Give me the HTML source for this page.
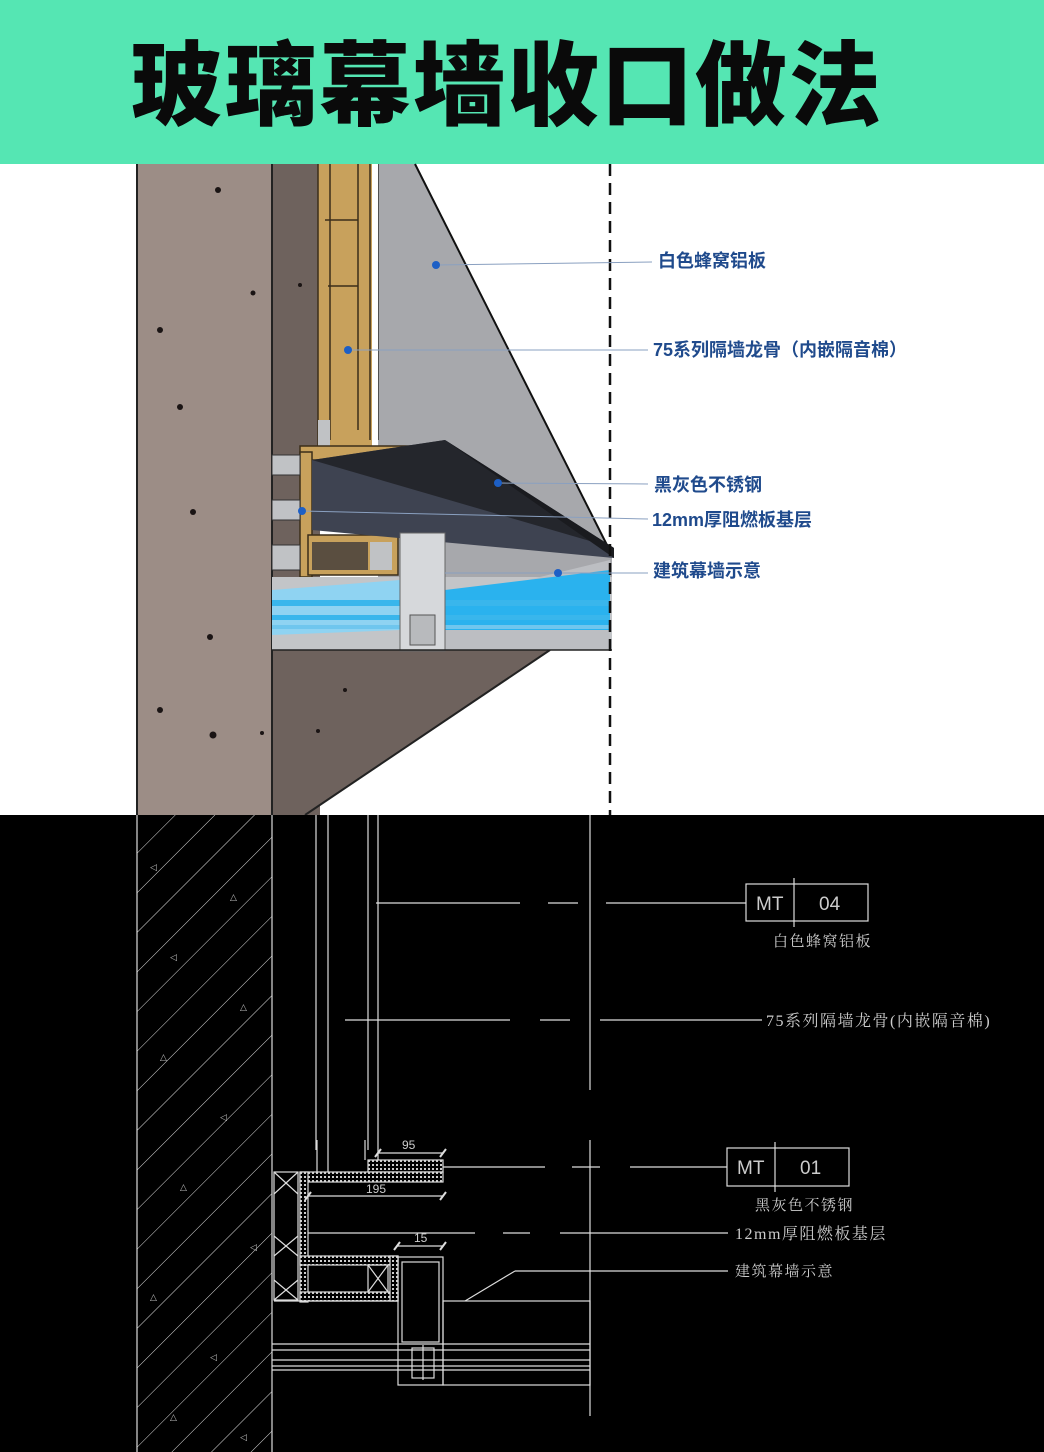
<!DOCTYPE html>
<html><head><meta charset="utf-8"><style>
html,body{margin:0;padding:0;background:#fff;}
svg{display:block;}
</style></head><body>
<svg width="1044" height="1452" viewBox="0 0 1044 1452" xmlns="http://www.w3.org/2000/svg">
<defs>
<pattern id="hatch" width="28" height="28" patternUnits="userSpaceOnUse" patternTransform="rotate(45)">
<rect width="28" height="28" fill="#000"/><line x1="0" y1="0" x2="0" y2="28" stroke="#ddd" stroke-width="1"/>
</pattern>
<pattern id="dots" width="4" height="4" patternUnits="userSpaceOnUse">
<rect width="4" height="4" fill="#000"/><rect x="0" y="0" width="2" height="2" fill="#ccc"/>
</pattern>
</defs>
<rect x="0" y="0" width="1044" height="164" fill="#55e6b3"/>
<text x="507" y="118" text-anchor="middle" font-family="'Liberation Sans','Noto Sans CJK SC',sans-serif" font-weight="900" font-size="92" fill="#0a0a0a" letter-spacing="2">玻璃幕墙收口做法</text>

<rect x="0" y="164" width="1044" height="651" fill="#fff"/>
<rect x="137" y="164" width="135" height="651" fill="#9c8d86"/>
<line x1="137" y1="164" x2="137" y2="815" stroke="#222" stroke-width="2"/>
<rect x="272" y="164" width="48" height="651" fill="#6e625d"/>
<polygon points="272,650 550,650 305,815 272,815" fill="#6e625d"/>
<line x1="550" y1="650" x2="305" y2="815" stroke="#222" stroke-width="2"/>
<line x1="272" y1="164" x2="272" y2="815" stroke="#222" stroke-width="2"/>
<polygon points="378,164 415,164 612,555 612,600 378,600" fill="#a7a8ac"/>
<line x1="415" y1="164" x2="612" y2="555" stroke="#111" stroke-width="2"/>
<line x1="378" y1="164" x2="378" y2="440" stroke="#333" stroke-width="1.5"/>
<rect x="372" y="164" width="6" height="280" fill="#fff"/>
<rect x="318" y="164" width="54" height="290" fill="#c8a15c"/>
<g stroke="#3b2e1a" stroke-width="1.5" fill="none">
<line x1="318" y1="164" x2="318" y2="450"/><line x1="330" y1="164" x2="330" y2="440"/>
<line x1="358" y1="164" x2="358" y2="430"/><line x1="370" y1="164" x2="370" y2="440"/>
<line x1="325" y1="220" x2="358" y2="220"/><line x1="328" y1="286" x2="358" y2="286"/>
</g>
<rect x="318" y="420" width="12" height="35" fill="#c0c2c5"/>
<rect x="300" y="446" width="145" height="14" fill="#c8a15c" stroke="#3b2e1a" stroke-width="1.5"/>
<rect x="300" y="452" width="12" height="125" fill="#c8a15c" stroke="#3b2e1a" stroke-width="1.5"/>
<rect x="308" y="535" width="90" height="40" fill="#c8a15c" stroke="#3b2e1a" stroke-width="1.5"/>
<rect x="312" y="542" width="56" height="28" fill="#5a4e40"/>
<rect x="370" y="542" width="22" height="28" fill="#c0c2c5"/>
<rect x="272" y="455" width="28" height="20" fill="#c0c2c5" stroke="#333"/>
<rect x="272" y="500" width="28" height="20" fill="#c0c2c5" stroke="#333"/>
<rect x="272" y="545" width="28" height="25" fill="#c0c2c5" stroke="#333"/>
<polygon points="312,460 445,440 614,548 614,558 312,530" fill="#3e4351"/>
<polygon points="312,460 445,440 614,548" fill="#24262c"/>
<polygon points="445,440 614,548 614,558" fill="#1a1b1f"/>
<rect x="272" y="577" width="340" height="73" fill="#c3c5c8"/>
<polygon points="445,600 610,560 610,650 445,650" fill="#bcbec2"/>
<polygon points="272,590 400,580 400,630 272,635" fill="#8fd3f2"/>
<polygon points="445,590 610,570 610,630 445,630" fill="#2ab2ee"/>
<rect x="272" y="600" width="338" height="6" fill="#39b6ec"/>
<rect x="272" y="615" width="338" height="5" fill="#39b6ec"/>
<rect x="272" y="625" width="338" height="4" fill="#6fc6ee"/>
<rect x="400" y="533" width="45" height="118" fill="#d6d8db" stroke="#666"/>
<rect x="410" y="615" width="25" height="30" fill="#b8babd" stroke="#555"/>
<line x1="272" y1="650" x2="612" y2="650" stroke="#222" stroke-width="1.5"/>
<g fill="#1a1414">
<circle cx="218" cy="190" r="3"/><circle cx="253" cy="293" r="2.5"/><circle cx="160" cy="330" r="3"/>
<circle cx="180" cy="407" r="3"/><circle cx="193" cy="512" r="3"/><circle cx="210" cy="637" r="3"/>
<circle cx="160" cy="710" r="3"/><circle cx="213" cy="735" r="3.5"/><circle cx="262" cy="733" r="2"/>
<circle cx="300" cy="285" r="2"/><circle cx="345" cy="690" r="2"/><circle cx="318" cy="731" r="2"/>
</g>
<line x1="610" y1="164" x2="610" y2="815" stroke="#111" stroke-width="2.5" stroke-dasharray="12,7"/>
<g stroke="#8aa0c0" stroke-width="1">
<line x1="436" y1="265" x2="652" y2="262"/><line x1="348" y1="350" x2="648" y2="350"/>
<line x1="498" y1="483" x2="648" y2="484"/><line x1="302" y1="511" x2="648" y2="519"/>
<line x1="445" y1="573" x2="648" y2="573"/>
</g>
<g fill="#1d5fc5"><circle cx="436" cy="265" r="4"/><circle cx="348" cy="350" r="4"/><circle cx="498" cy="483" r="4"/><circle cx="302" cy="511" r="4"/><circle cx="558" cy="573" r="4"/></g>
<g font-family="'Liberation Sans','Noto Sans CJK SC',sans-serif" font-weight="bold" font-size="18" fill="#1f4a8c">
<text x="658" y="267">白色蜂窝铝板</text>
<text x="653" y="356">75系列隔墙龙骨（内嵌隔音棉）</text>
<text x="654" y="491">黑灰色不锈钢</text>
<text x="652" y="526">12mm厚阻燃板基层</text>
<text x="653" y="577">建筑幕墙示意</text>
</g>

<rect x="0" y="815" width="1044" height="637" fill="#000"/>
<rect x="137" y="815" width="135" height="637" fill="url(#hatch)"/>
<g fill="#bbb" font-size="9" font-family="'DejaVu Sans',sans-serif">
<text x="150" y="870">◁</text><text x="230" y="900">△</text><text x="170" y="960">◁</text><text x="240" y="1010">△</text>
<text x="160" y="1060">△</text><text x="220" y="1120">◁</text><text x="180" y="1190">△</text><text x="250" y="1250">◁</text>
<text x="150" y="1300">△</text><text x="210" y="1360">◁</text><text x="170" y="1420">△</text><text x="240" y="1440">◁</text>
</g>
<g stroke="#ddd" stroke-width="1.2" fill="none">
<line x1="137" y1="815" x2="137" y2="1452"/><line x1="272" y1="815" x2="272" y2="1452"/>
<line x1="316" y1="815" x2="316" y2="1150"/><line x1="328" y1="815" x2="328" y2="1172"/>
<line x1="368" y1="815" x2="368" y2="1150"/><line x1="378" y1="815" x2="378" y2="1160"/>
<line x1="590" y1="815" x2="590" y2="1090"/><line x1="590" y1="1140" x2="590" y2="1416"/>
<line x1="376" y1="903" x2="520" y2="903"/><line x1="548" y1="903" x2="578" y2="903"/><line x1="606" y1="903" x2="746" y2="903"/>
<line x1="345" y1="1020" x2="510" y2="1020"/><line x1="540" y1="1020" x2="570" y2="1020"/><line x1="600" y1="1020" x2="762" y2="1020"/>
<line x1="443" y1="1167" x2="545" y2="1167"/><line x1="572" y1="1167" x2="600" y2="1167"/><line x1="630" y1="1167" x2="727" y2="1167"/>
<line x1="303" y1="1233" x2="475" y2="1233"/><line x1="503" y1="1233" x2="530" y2="1233"/><line x1="560" y1="1233" x2="728" y2="1233"/>
<line x1="465" y1="1301" x2="515" y2="1271"/><line x1="515" y1="1271" x2="728" y2="1271"/>
<rect x="746" y="884" width="122" height="37"/><line x1="794" y1="878" x2="794" y2="927"/>
<rect x="727" y="1148" width="122" height="38"/><line x1="775" y1="1142" x2="775" y2="1192"/>
<line x1="317" y1="1140" x2="317" y2="1172"/><line x1="365" y1="1140" x2="365" y2="1160"/>
<rect x="368" y="1160" width="75" height="12" fill="url(#dots)"/>
<rect x="300" y="1172" width="143" height="10" fill="url(#dots)"/>
<rect x="300" y="1172" width="8" height="130" fill="url(#dots)"/>
<rect x="300" y="1256" width="98" height="9" fill="url(#dots)"/>
<rect x="300" y="1292" width="98" height="9" fill="url(#dots)"/>
<rect x="390" y="1256" width="8" height="45" fill="url(#dots)"/>
<rect x="368" y="1265" width="20" height="27"/><line x1="368" y1="1265" x2="388" y2="1292"/><line x1="388" y1="1265" x2="368" y2="1292"/>
<rect x="274" y="1172" width="24" height="128"/>
<line x1="274" y1="1172" x2="298" y2="1194"/><line x1="298" y1="1172" x2="274" y2="1194"/>
<line x1="274" y1="1236" x2="298" y2="1256"/><line x1="298" y1="1236" x2="274" y2="1256"/>
<line x1="274" y1="1280" x2="298" y2="1300"/><line x1="298" y1="1280" x2="274" y2="1300"/>
<line x1="274" y1="1301" x2="398" y2="1301"/>
<rect x="398" y="1257" width="45" height="128"/>
<rect x="402" y="1262" width="37" height="80"/>
<rect x="443" y="1301" width="147" height="84"/>
<line x1="272" y1="1344" x2="590" y2="1344"/><line x1="272" y1="1350" x2="590" y2="1350"/>
<line x1="272" y1="1360" x2="590" y2="1360"/><line x1="272" y1="1366" x2="590" y2="1366"/>
<line x1="272" y1="1370" x2="590" y2="1370"/>
<rect x="412" y="1348" width="22" height="30"/><line x1="423" y1="1345" x2="423" y2="1380"/>
<line x1="378" y1="1153" x2="443" y2="1153"/><line x1="375" y1="1157" x2="381" y2="1149" stroke-width="2"/><line x1="440" y1="1157" x2="446" y2="1149" stroke-width="2"/>
<line x1="308" y1="1196" x2="443" y2="1196"/><line x1="305" y1="1200" x2="311" y2="1192" stroke-width="2"/><line x1="440" y1="1200" x2="446" y2="1192" stroke-width="2"/>
<line x1="397" y1="1246" x2="443" y2="1246"/><line x1="394" y1="1250" x2="400" y2="1242" stroke-width="2"/><line x1="440" y1="1250" x2="446" y2="1242" stroke-width="2"/>
</g>
<g font-family="'Liberation Sans',sans-serif" fill="#ccc" font-size="12">
<text x="402" y="1149">95</text><text x="366" y="1193">195</text><text x="414" y="1242">15</text>
</g>
<g font-family="'Liberation Sans',sans-serif" fill="#ccc" font-size="19">
<text x="756" y="910">MT</text><text x="819" y="910">04</text>
<text x="737" y="1174">MT</text><text x="800" y="1174">01</text>
</g>
<g font-family="'Liberation Serif','Noto Serif CJK SC',serif" fill="#ccc" font-size="15" letter-spacing="1.5">
<text x="773" y="946">白色蜂窝铝板</text>
<text x="766" y="1026" font-size="16">75系列隔墙龙骨(内嵌隔音棉)</text>
<text x="755" y="1210">黑灰色不锈钢</text>
<text x="735" y="1239" font-size="16">12mm厚阻燃板基层</text>
<text x="735" y="1276">建筑幕墙示意</text>
</g>
</svg>
</body></html>
